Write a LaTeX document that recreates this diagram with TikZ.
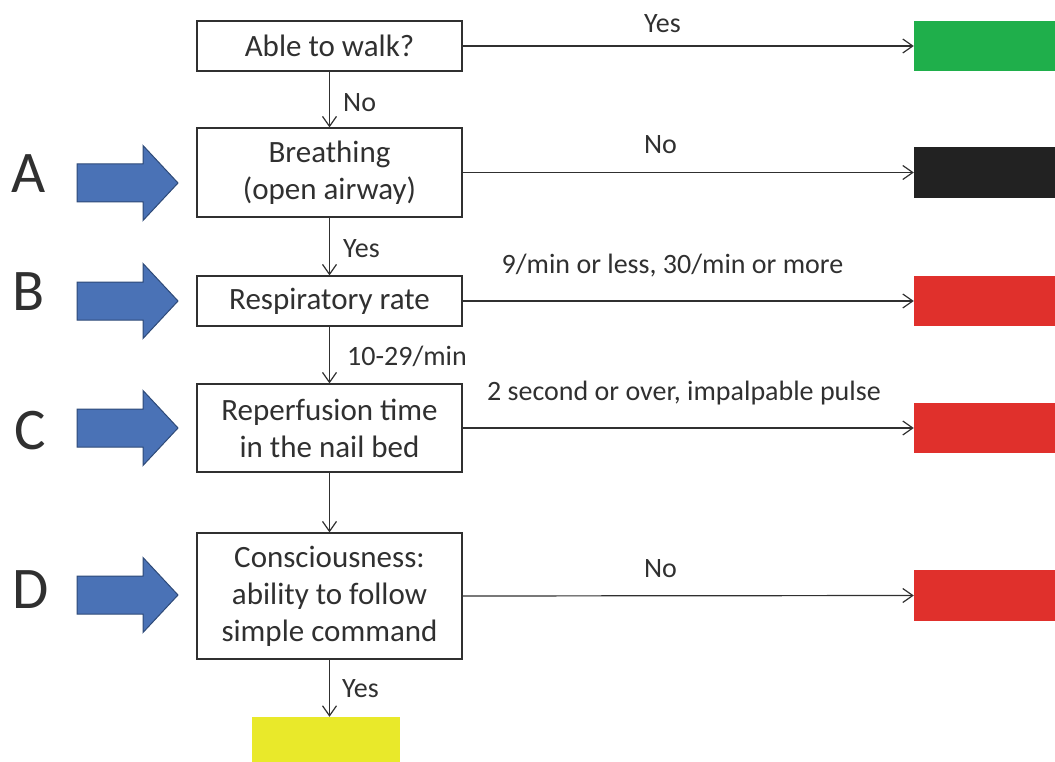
\documentclass[tikz,border=0pt]{standalone}
\usepackage{fontspec}
\setmainfont{Carlito}
\usetikzlibrary{arrows.meta}
\definecolor{inkc}{HTML}{303030}
\definecolor{arrowblue}{HTML}{4A72B6}
\definecolor{arrowedge}{HTML}{2E4A78}
\definecolor{triGreen}{HTML}{1FAF4B}
\definecolor{triBlack}{HTML}{222222}
\definecolor{triRed}{HTML}{E0302C}
\definecolor{triYellow}{HTML}{E9E92A}
\tikzset{
  stepbox/.style={draw=inkc, line width=1.2pt, minimum width=265pt, inner sep=0pt, align=center, text=inkc, font=\fontsize{31}{37}\selectfont},
  tagbox/.style={inner sep=0pt, minimum width=146pt, minimum height=50pt},
  conn/.style={draw=inkc, line width=1.2pt, -{Straight Barb[length=10pt,width=14pt,line width=1.2pt]}},
  lbl/.style={inner sep=0pt, text=inkc, font=\fontsize{28}{32}\selectfont},
  bigletter/.style={inner sep=0pt, text=inkc, font=\fontsize{59}{60}\selectfont},
  bluearrow/.pic={\draw[fill=arrowblue, draw=arrowedge, line width=1pt, line join=miter]
     (-50.5,-19) -- (15.5,-19) -- (15.5,-37.5) -- (50.5,0) -- (15.5,37.5) -- (15.5,19) -- (-50.5,19) -- cycle;}
}
\begin{document}
\begin{tikzpicture}[x=1pt,y=-1pt]
\useasboundingbox (0,0) rectangle (1055,762);
\clip (0,0) rectangle (1055,762);
% step boxes
\node[stepbox, minimum height=50pt] (b1) at (329.5,46) {Able to walk?};
\node[stepbox, minimum height=89pt] (b2) at (329.5,172.5) {Breathing\\(open airway)};
\node[stepbox, minimum height=50pt] (b3) at (329.5,301) {Respiratory rate};
\node[stepbox, minimum height=88pt] (b4) at (329.5,428) {Reperfusion time\\in the nail bed};
\node[stepbox, minimum height=126pt] (b5) at (329.5,596) {Consciousness:\\ability to follow\\simple command};
% triage colour boxes
\node[tagbox, fill=triGreen] (tg) at (987,46) {};
\node[tagbox, fill=triBlack, minimum height=51pt] (tb) at (987,172.5) {};
\node[tagbox, fill=triRed] (tr1) at (987,301) {};
\node[tagbox, fill=triRed] (tr2) at (987,428) {};
\node[tagbox, fill=triRed, minimum height=51pt] (tr3) at (987,595.5) {};
\node[inner sep=0pt, fill=triYellow, minimum width=148pt, minimum height=55pt] (ty) at (326,744.5) {};
% vertical connectors
\draw[conn] (b1.south) -- (b2.north);
\draw[conn] (b2.south) -- (b3.north);
\draw[conn] (b3.south) -- (b4.north);
\draw[conn] (b4.south) -- (b5.north);
\draw[conn] (b5.south) -- (b5.south |- ty.north);
% horizontal connectors
\draw[conn] (b1.east) -- (tg.west);
\draw[conn] (b2.east) -- (tb.west);
\draw[conn] (b3.east) -- (tr1.west);
\draw[conn] (b4.east) -- (tr2.west);
\draw[conn] (b5.east) -- (tr3.west);
% labels on horizontal connectors
\node[lbl, anchor=base] (l1) at (662.5,33) {Yes};
\node[lbl, anchor=base] (l2) at (660.5,154) {No};
\node[lbl, anchor=base] (l3) at (672.5,273) {9/min or less, 30/min or more};
\node[lbl, anchor=base] (l4) at (684,400) {2 second or over, impalpable pulse};
\node[lbl, anchor=base] (l5) at (660.5,577) {No};
% labels on vertical connectors
\node[lbl, anchor=base west] (v1) at (343,112) {No};
\node[lbl, anchor=base west] (v2) at (343,258) {Yes};
\node[lbl, anchor=base west] (v3) at (347,365) {10-29/min};
\node[lbl, anchor=base west] (v4) at (342,697) {Yes};
% blue arrows and letters
\pic at (127.5,183) {bluearrow};
\pic at (127.5,301) {bluearrow};
\pic at (127.5,428) {bluearrow};
\pic at (127.5,595) {bluearrow};
\node[bigletter] (la) at (28.5,174) {A};
\node[bigletter] (lb) at (28.5,292) {B};
\node[bigletter] (lc) at (30,431) {C};
\node[bigletter] (ld) at (31,590) {D};
\end{tikzpicture}
\end{document}
